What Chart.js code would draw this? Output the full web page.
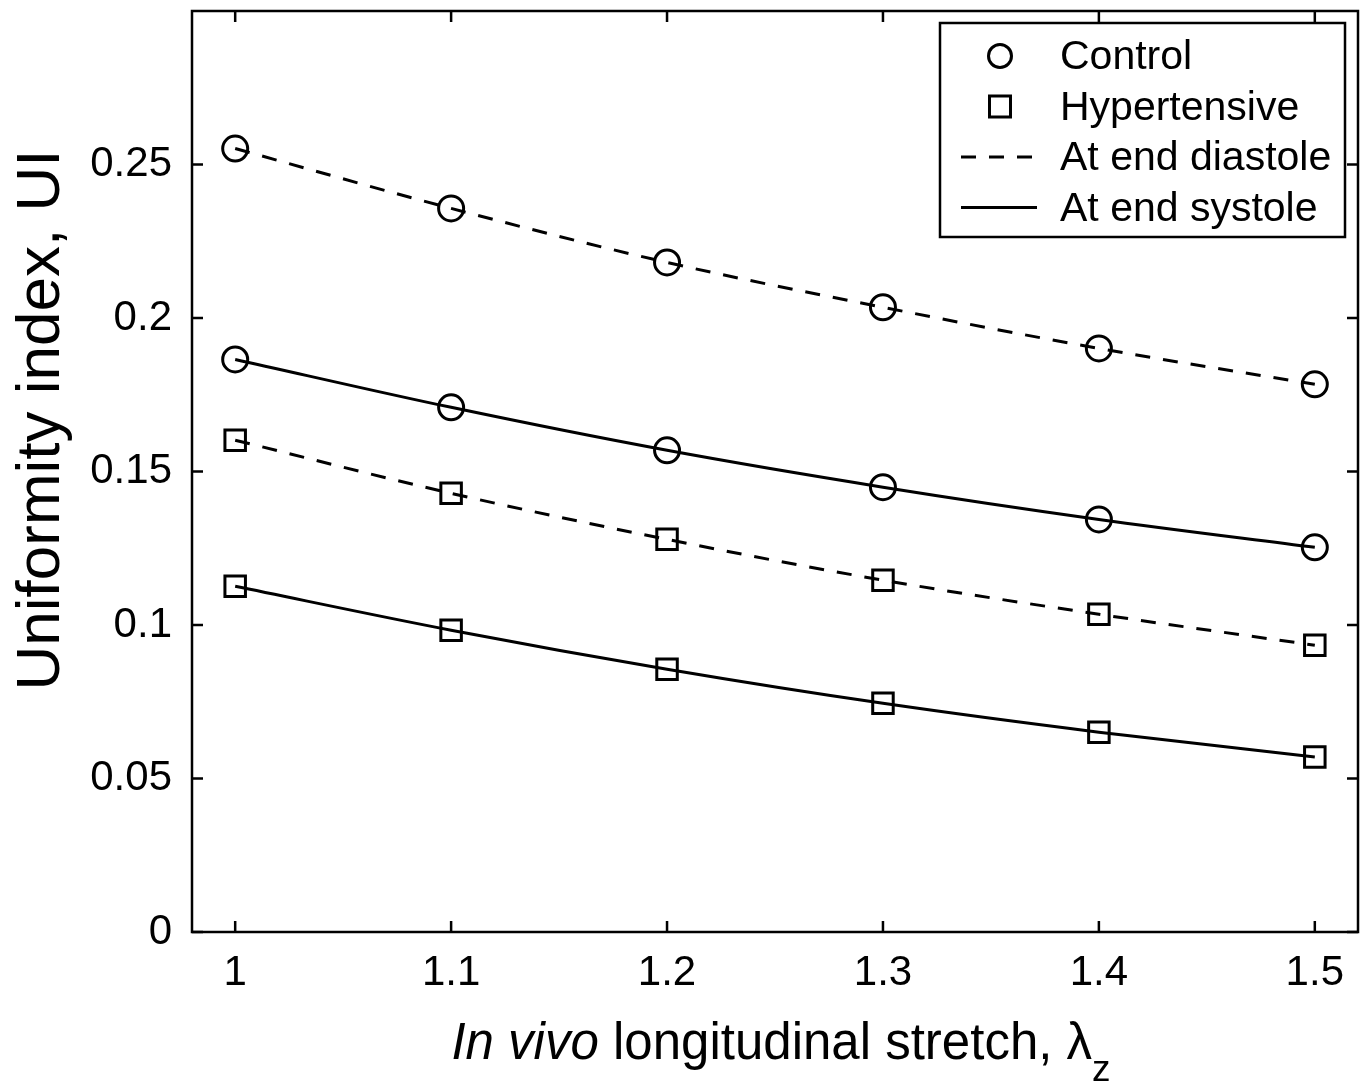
<!DOCTYPE html>
<html lang="en">
<head>
<meta charset="UTF-8">
<title>Uniformity index vs in vivo longitudinal stretch</title>
<script src="https://cdn.jsdelivr.net/npm/chart.js"></script>
<style>
  html, body { margin: 0; padding: 0; background: #fff; }
  canvas { display: block; }
</style>
</head>
<body>
<canvas id="uiChart" width="1365" height="1085"></canvas>
<script>
// values
const stretch = [1, 1.1, 1.2, 1.3, 1.4, 1.5];
const controlDiastole = [0.2552, 0.2357, 0.2181, 0.2035, 0.1901, 0.1784];
const controlSystole = [0.1865, 0.1709, 0.1569, 0.1449, 0.1344, 0.1253];
const hyperDiastole = [0.1602, 0.1429, 0.1279, 0.1146, 0.1035, 0.0934];
const hyperSystole = [0.1126, 0.0983, 0.0856, 0.0745, 0.0651, 0.0570];

const xTicks = [1, 1.1, 1.2, 1.3, 1.4, 1.5];
const yTicks = [0, 0.05, 0.1, 0.15, 0.2, 0.25];

const legendEntries = [
  { label: 'Control', marker: 'circle' },
  { label: 'Hypertensive', marker: 'rect' },
  { label: 'At end diastole', line: 'dashed' },
  { label: 'At end systole', line: 'solid' }
];

const FONT = '"Liberation Sans", Arial, Helvetica, sans-serif';
const DASH = [15, 13];

function series(values, label, marker, dashed) {
  return {
    label: label,
    data: stretch.map((x, i) => ({ x: x, y: values[i] })),
    borderColor: '#000',
    borderWidth: 3,
    borderDash: dashed ? DASH : [],
    pointStyle: marker,
    pointRadius: marker === 'rect' ? 14.5 : 12.5,
    pointBorderWidth: 3,
    pointBorderColor: '#000',
    pointBackgroundColor: 'rgba(0,0,0,0)',
    cubicInterpolationMode: 'monotone',
    fill: false
  };
}

// box, inward ticks, axis titles and legend, drawn the MATLAB way
const frame = {
  id: 'frame',
  afterDraw(chart) {
    const { ctx, chartArea: a, scales } = chart;
    const sx = scales.x, sy = scales.y;
    ctx.save();
    ctx.strokeStyle = '#000';
    ctx.lineWidth = 2.5;
    ctx.setLineDash([]);
    ctx.strokeRect(a.left, a.top, a.right - a.left, a.bottom - a.top);
    ctx.beginPath();
    xTicks.forEach(v => {
      const px = sx.getPixelForValue(v);
      ctx.moveTo(px, a.bottom); ctx.lineTo(px, a.bottom - 11);
      ctx.moveTo(px, a.top); ctx.lineTo(px, a.top + 11);
    });
    yTicks.forEach(v => {
      const py = sy.getPixelForValue(v);
      ctx.moveTo(a.left, py); ctx.lineTo(a.left + 11, py);
      ctx.moveTo(a.right, py); ctx.lineTo(a.right - 11, py);
    });
    ctx.stroke();

    ctx.fillStyle = '#000';
    // y title
    ctx.save();
    ctx.translate(59, 420);
    ctx.rotate(-Math.PI / 2);
    ctx.font = '62px ' + FONT;
    ctx.textAlign = 'center';
    ctx.textBaseline = 'alphabetic';
    ctx.fillText('Uniformity index, UI', 0, 0);
    ctx.restore();

    // x title: italic "In vivo", then λ with subscript z
    const parts = [
      { text: 'In vivo', font: 'italic 51px ' + FONT, dy: 0 },
      { text: ' longitudinal stretch, λ', font: '51px ' + FONT, dy: 0 },
      { text: 'z', font: '37px ' + FONT, dy: 22 }
    ];
    let total = 0;
    parts.forEach(p => { ctx.font = p.font; p.w = ctx.measureText(p.text).width; total += p.w; });
    let tx = 781 - total / 2;
    ctx.textAlign = 'left';
    parts.forEach(p => {
      ctx.font = p.font;
      ctx.fillText(p.text, tx, 1059 + p.dy);
      tx += p.w;
    });

    // legend
    const box = { left: 940, top: 23, right: 1345, bottom: 237 };
    ctx.fillStyle = '#fff';
    ctx.fillRect(box.left, box.top, box.right - box.left, box.bottom - box.top);
    ctx.strokeRect(box.left, box.top, box.right - box.left, box.bottom - box.top);
    ctx.fillStyle = '#000';
    ctx.font = '41px ' + FONT;
    ctx.textBaseline = 'middle';
    legendEntries.forEach((e, i) => {
      const cy = 56 + i * 50.5;
      ctx.lineWidth = 3;
      ctx.beginPath();
      if (e.marker === 'circle') {
        ctx.arc(1000, cy, 11.5, 0, Math.PI * 2);
      } else if (e.marker === 'rect') {
        ctx.rect(989.5, cy - 10.5, 21, 21);
      } else {
        ctx.setLineDash(e.line === 'dashed' ? DASH : []);
        ctx.moveTo(961, cy); ctx.lineTo(1037, cy);
      }
      ctx.stroke();
      ctx.setLineDash([]);
      ctx.fillText(e.label, 1060, cy + 2);
    });
    ctx.restore();
  }
};

new Chart(document.getElementById('uiChart'), {
  type: 'line',
  data: {
    datasets: [
      series(controlDiastole, 'Control, end diastole', 'circle', true),
      series(controlSystole, 'Control, end systole', 'circle', false),
      series(hyperDiastole, 'Hypertensive, end diastole', 'rect', true),
      series(hyperSystole, 'Hypertensive, end systole', 'rect', false)
    ]
  },
  options: {
    responsive: false,
    animation: false,
    devicePixelRatio: 1,
    layout: { autoPadding: false, padding: { left: 0, top: 11, right: 7, bottom: 0 } },
    plugins: { legend: { display: false }, tooltip: { enabled: false } },
    scales: {
      x: {
        type: 'linear',
        min: 0.98,
        max: 1.52,
        grid: { display: false, drawTicks: false },
        border: { display: false },
        afterBuildTicks: s => { s.ticks = xTicks.map(v => ({ value: v })); },
        afterFit: s => { s.height = 153; s.paddingLeft = 0; s.paddingRight = 0; },
        ticks: {
          padding: 16,
          color: '#000',
          font: { family: FONT, size: 42 },
          callback: v => String(v)
        }
      },
      y: {
        type: 'linear',
        min: 0,
        max: 0.3,
        grid: { display: false, drawTicks: false },
        border: { display: false },
        afterBuildTicks: s => { s.ticks = yTicks.map(v => ({ value: v })); },
        afterFit: s => { s.width = 192; s.paddingTop = 0; s.paddingBottom = 0; },
        ticks: {
          padding: 20,
          color: '#000',
          font: { family: FONT, size: 42 },
          callback: v => String(v)
        }
      }
    }
  },
  plugins: [frame]
});
</script>
</body>
</html>
